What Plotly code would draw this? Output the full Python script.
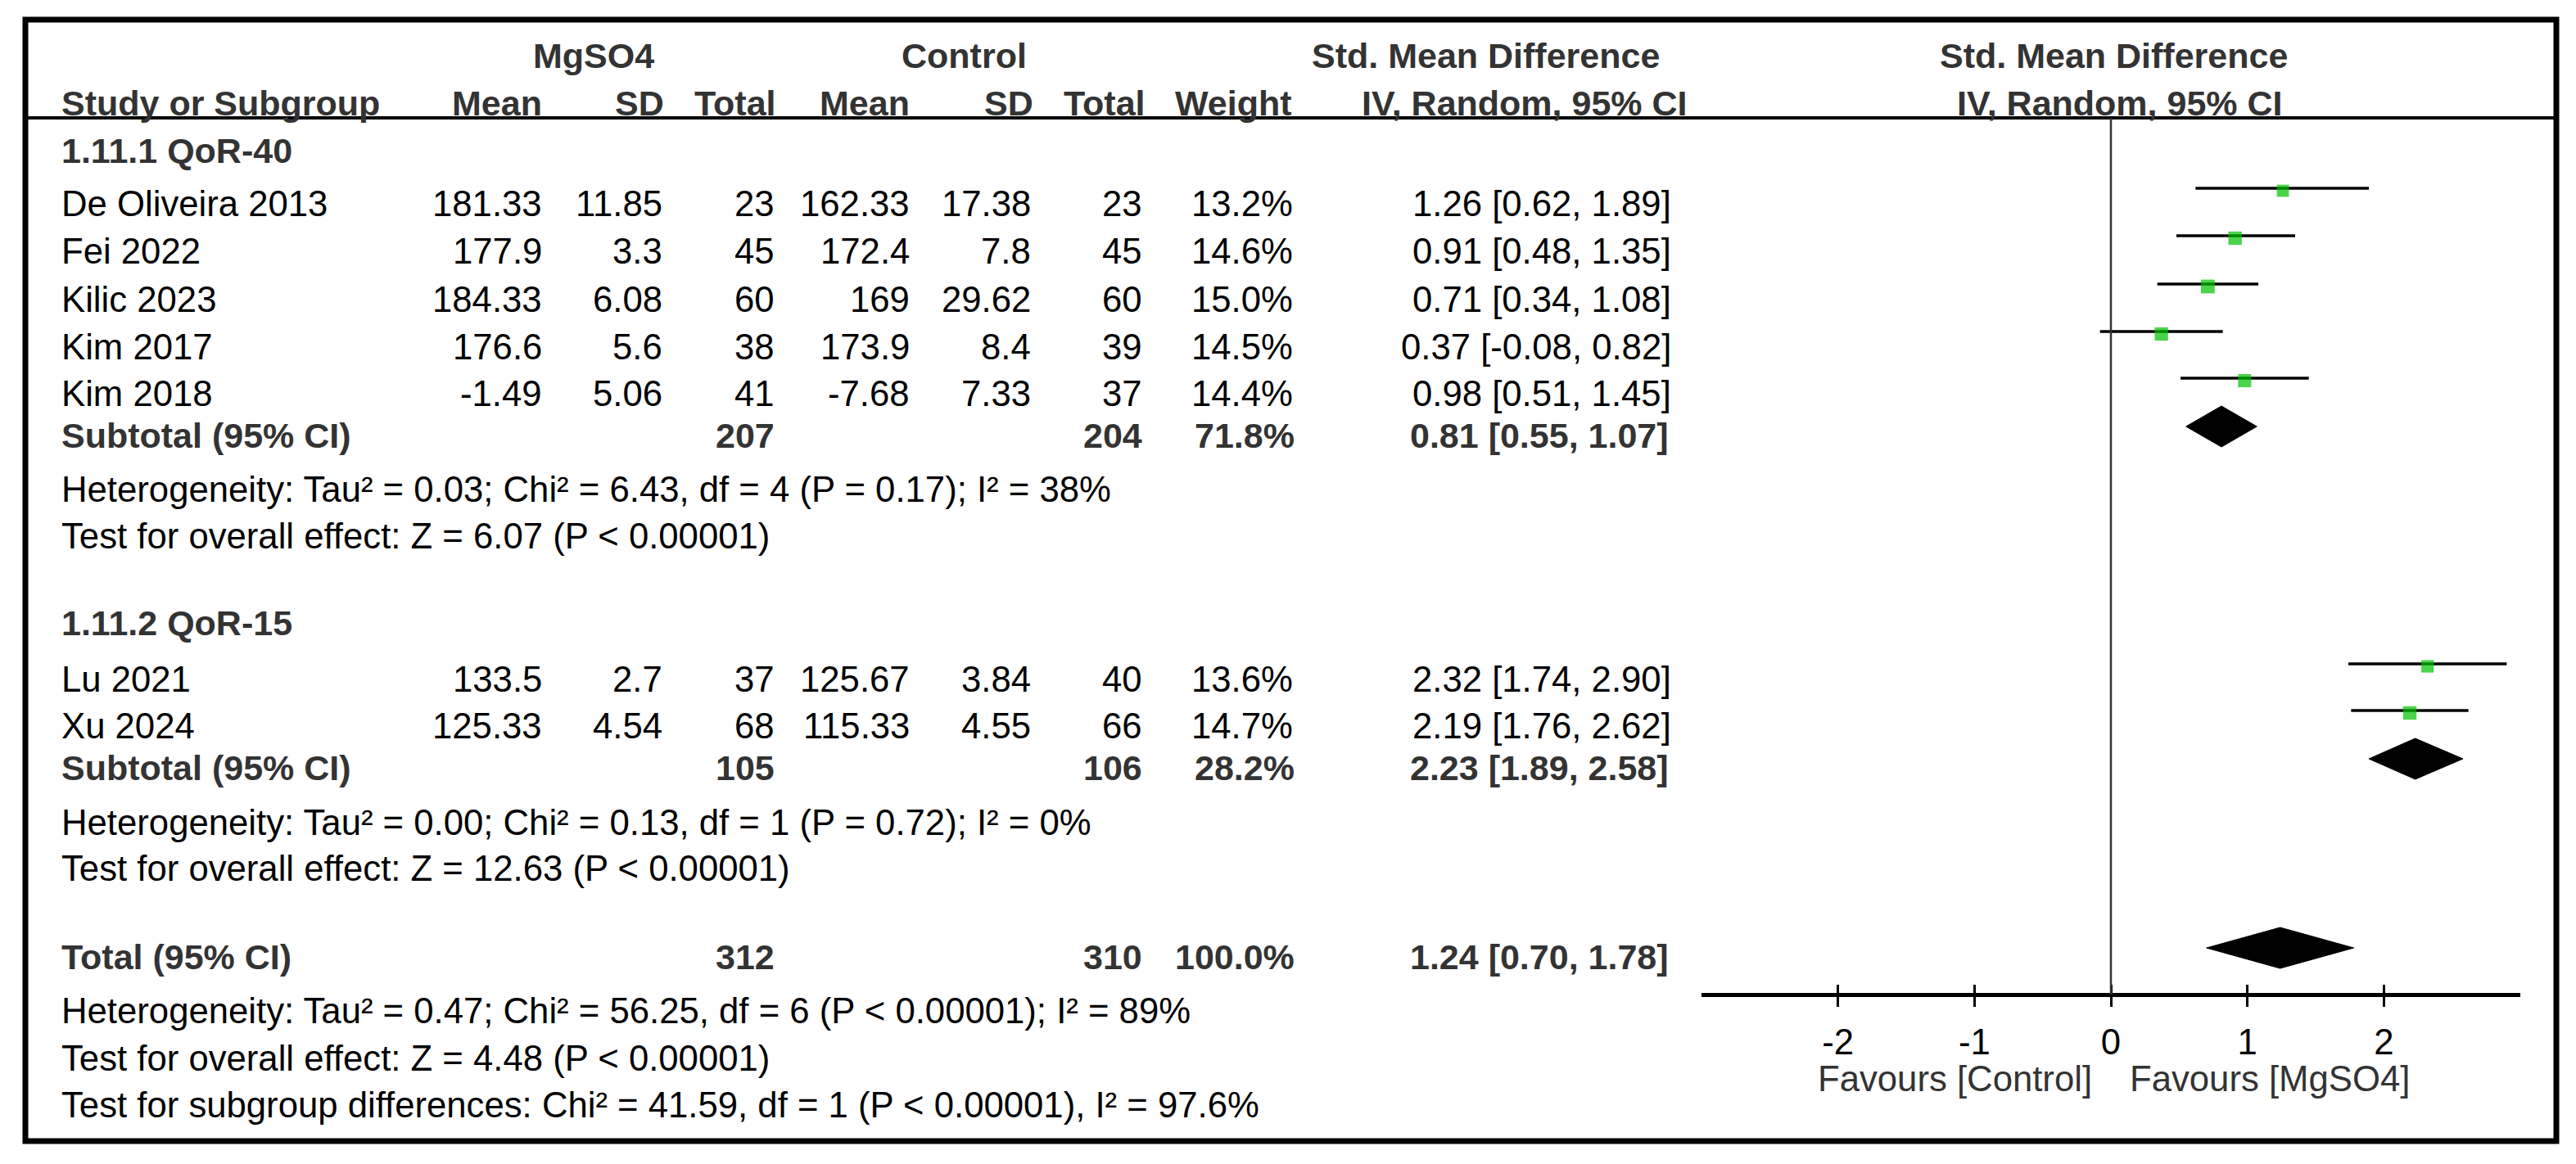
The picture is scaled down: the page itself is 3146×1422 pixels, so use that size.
import plotly.graph_objects as go

W, H = 3146, 1422
FONT = "Liberation Sans"
FS_BOLD = 43
FS_REG = 43.7

# ---------------- data ----------------
studies = ["De Oliveira 2013", "Fei 2022", "Kilic 2023", "Kim 2017", "Kim 2018", "Lu 2021", "Xu 2024"]
mg_mean = [181.33, 177.9, 184.33, 176.6, -1.49, 133.5, 125.33]
mg_sd = [11.85, 3.3, 6.08, 5.6, 5.06, 2.7, 4.54]
mg_total = [23, 45, 60, 38, 41, 37, 68]
ctl_mean = [162.33, 172.4, 169, 173.9, -7.68, 125.67, 115.33]
ctl_sd = [17.38, 7.8, 29.62, 8.4, 7.33, 3.84, 4.55]
ctl_total = [23, 45, 60, 39, 37, 40, 66]
weights = [13.2, 14.6, 15.0, 14.5, 14.4, 13.6, 14.7]
smd = [1.26, 0.91, 0.71, 0.37, 0.98, 2.32, 2.19]
ci_low = [0.62, 0.48, 0.34, -0.08, 0.51, 1.74, 1.76]
ci_high = [1.89, 1.35, 1.08, 0.82, 1.45, 2.90, 2.62]

groups = ["1.11.1 QoR-40", "1.11.2 QoR-15"]
pooled_labels = ["Subtotal (95% CI)", "Subtotal (95% CI)", "Total (95% CI)"]
pooled_mg_total = [207, 105, 312]
pooled_ctl_total = [204, 106, 310]
pooled_weight = [71.8, 28.2, 100.0]
pooled_smd = [0.81, 2.23, 1.24]
pooled_low = [0.55, 1.89, 0.70]
pooled_high = [1.07, 2.58, 1.78]
heterogeneity = [
    "Heterogeneity: Tau² = 0.03; Chi² = 6.43, df = 4 (P = 0.17); I² = 38%",
    "Heterogeneity: Tau² = 0.00; Chi² = 0.13, df = 1 (P = 0.72); I² = 0%",
    "Heterogeneity: Tau² = 0.47; Chi² = 56.25, df = 6 (P < 0.00001); I² = 89%",
]
overall_effect = [
    "Test for overall effect: Z = 6.07 (P < 0.00001)",
    "Test for overall effect: Z = 12.63 (P < 0.00001)",
    "Test for overall effect: Z = 4.48 (P < 0.00001)",
]
subgroup_diff = "Test for subgroup differences: Chi² = 41.59, df = 1 (P < 0.00001), I² = 97.6%"
axis_ticks = [-2, -1, 0, 1, 2]
axis_range = [-3, 3]
favours = ["Favours [Control]", "Favours [MgSO4]"]

# ---------------- layout (pixel rows / columns) ----------------
group_y = [184, 761]
study_y = [248, 306, 365, 423, 480, 829, 886]
pooled_y = [532, 938, 1169]
het_y = [597, 1004, 1234]
test_y = [654, 1060, 1292]
sgd_y = 1349
hdr1_y, hdr2_y, hdr_line_y = 68, 126, 144
axis_y = 1215
left_x = 74
col_mg_mean, col_mg_sd, col_mg_n = 663, 810, 947
col_c_mean, col_c_sd, col_c_n = 1112, 1260, 1396
col_w, col_ci = 1580, 2042
plot_x0, plot_x1 = 2078, 3078
box = (31, 24, 3122, 1394)

ann = []


def T(x, y, s, anchor="left", bold=False, color=None, xref="x", xshift=0):
    s = s.replace("<", "&lt;")
    if bold:
        s = "<b>" + s + "</b>"
    ann.append(dict(x=x, y=y, xref=xref, yref="y", text=s, showarrow=False,
                    xanchor=anchor, yanchor="middle", borderpad=0, xshift=xshift,
                    font=dict(family=FONT, size=FS_BOLD if bold else FS_REG,
                              color=color or ("#333333" if bold else "#000000"))))


def fmt(v):
    return f"{v:g}"


# headers
T(725, hdr1_y, "MgSO4", "center", True)
T(1177, hdr1_y, "Control", "center", True)
T(1814, hdr1_y, "Std. Mean Difference", "center", True)
T(2581, hdr1_y, "Std. Mean Difference", "center", True)
T(left_x, hdr2_y, "Study or Subgroup", "left", True)
T(663, hdr2_y, "Mean", "right", True)
T(812, hdr2_y, "SD", "right", True)
T(949, hdr2_y, "Total", "right", True)
T(1112, hdr2_y, "Mean", "right", True)
T(1263, hdr2_y, "SD", "right", True)
T(1400, hdr2_y, "Total", "right", True)
T(1579, hdr2_y, "Weight", "right", True)
T(2061, hdr2_y, "IV, Random, 95% CI", "right", True)
T(2588, hdr2_y, "IV, Random, 95% CI", "center", True)

for g, y in zip(groups, group_y):
    T(left_x, y, g, "left", True)

for i, name in enumerate(studies):
    y = study_y[i]
    T(left_x, y, name)
    T(col_mg_mean, y, fmt(mg_mean[i]), "right")
    T(col_mg_sd, y, fmt(mg_sd[i]), "right")
    T(col_mg_n, y, str(mg_total[i]), "right")
    T(col_c_mean, y, fmt(ctl_mean[i]), "right")
    T(col_c_sd, y, fmt(ctl_sd[i]), "right")
    T(col_c_n, y, str(ctl_total[i]), "right")
    T(col_w, y, f"{weights[i]:.1f}%", "right")
    T(col_ci, y, f"{smd[i]:.2f} [{ci_low[i]:.2f}, {ci_high[i]:.2f}]", "right")

for j, lab in enumerate(pooled_labels):
    y = pooled_y[j]
    T(left_x, y, lab, "left", True)
    T(col_mg_n, y, str(pooled_mg_total[j]), "right", True)
    T(col_c_n, y, str(pooled_ctl_total[j]), "right", True)
    T(col_w + 2, y, f"{pooled_weight[j]:.1f}%", "right", True)
    T(col_ci - 3, y, f"{pooled_smd[j]:.2f} [{pooled_low[j]:.2f}, {pooled_high[j]:.2f}]", "right", True)
    T(left_x, het_y[j], heterogeneity[j])
    T(left_x, test_y[j], overall_effect[j])
T(left_x, sgd_y, subgroup_diff)

# favours labels under axis
T(0, 1317, favours[0], "right", False, "#333333", xref="x2", xshift=-22)
T(0, 1317, favours[1], "left", False, "#333333", xref="x2", xshift=22)

# ---------------- traces ----------------
fig = go.Figure()

line_x, line_y = [], []
for i in range(len(studies)):
    line_x += [ci_low[i], ci_high[i], None]
    line_y += [study_y[i] - 18, study_y[i] - 18, None]
fig.add_trace(go.Scatter(x=line_x, y=line_y, mode="lines", xaxis="x2", yaxis="y",
                         line=dict(color="black", width=3.5), hoverinfo="skip"))

fig.add_trace(go.Scatter(x=smd, y=[y - 15 for y in study_y], mode="markers", xaxis="x2", yaxis="y",
                         marker=dict(symbol="square", size=[w * 1.12 for w in weights],
                                     color="#00C000", line=dict(width=0)),
                         text=studies, hoverinfo="text+x"))

for j in range(len(pooled_labels)):
    yc = pooled_y[j] - 11
    fig.add_trace(go.Scatter(
        x=[pooled_low[j], pooled_smd[j], pooled_high[j], pooled_smd[j], pooled_low[j]],
        y=[yc, yc - 25, yc, yc + 25, yc],
        mode="lines", fill="toself", fillcolor="black", line=dict(color="black", width=1),
        xaxis="x2", yaxis="y", hoverinfo="skip"))

# invisible trace to materialise overlay axis for inner ticks
fig.add_trace(go.Scatter(x=[None], y=[None], xaxis="x3", yaxis="y", mode="markers",
                         hoverinfo="skip"))

shapes = [
    dict(type="rect", xref="x", yref="y", x0=box[0], y0=box[1], x1=box[2], y1=box[3],
         line=dict(color="black", width=7)),
    dict(type="line", xref="x", yref="y", x0=box[0], x1=box[2], y0=hdr_line_y, y1=hdr_line_y,
         line=dict(color="black", width=4)),
    dict(type="line", xref="x2", yref="y", x0=0, x1=0, y0=hdr_line_y, y1=axis_y,
         line=dict(color="#333333", width=2.5)),
]

pos = 1 - axis_y / H
fig.update_layout(
    width=W, height=H, margin=dict(l=0, r=0, t=0, b=0),
    paper_bgcolor="white", plot_bgcolor="white", showlegend=False,
    font=dict(family=FONT, size=FS_REG, color="black"),
    xaxis=dict(range=[0, W], domain=[0, 1], visible=False, fixedrange=True),
    yaxis=dict(range=[H, 0], domain=[0, 1], visible=False, fixedrange=True),
    xaxis2=dict(domain=[plot_x0 / W, plot_x1 / W], range=axis_range, anchor="free", position=pos,
                showline=True, linewidth=5, linecolor="black",
                ticks="outside", ticklen=12, tickwidth=3, tickcolor="black",
                tickmode="array", tickvals=axis_ticks, ticktext=[fmt(t) for t in axis_ticks],
                tickfont=dict(family=FONT, size=FS_REG, color="black"),
                ticklabelstandoff=6,
                showgrid=False, zeroline=False, fixedrange=True),
    xaxis3=dict(overlaying="x2", range=axis_range, anchor="free", position=pos,
                showline=False, ticks="inside", ticklen=12, tickwidth=3, tickcolor="black",
                tickmode="array", tickvals=axis_ticks, showticklabels=False,
                showgrid=False, zeroline=False, fixedrange=True),
    shapes=shapes,
    annotations=ann,
)

fig.write_html(
    "out.html",
    config={"displayModeBar": False},
    post_script="document.body.style.margin='0';document.body.style.overflow='hidden';",
)
